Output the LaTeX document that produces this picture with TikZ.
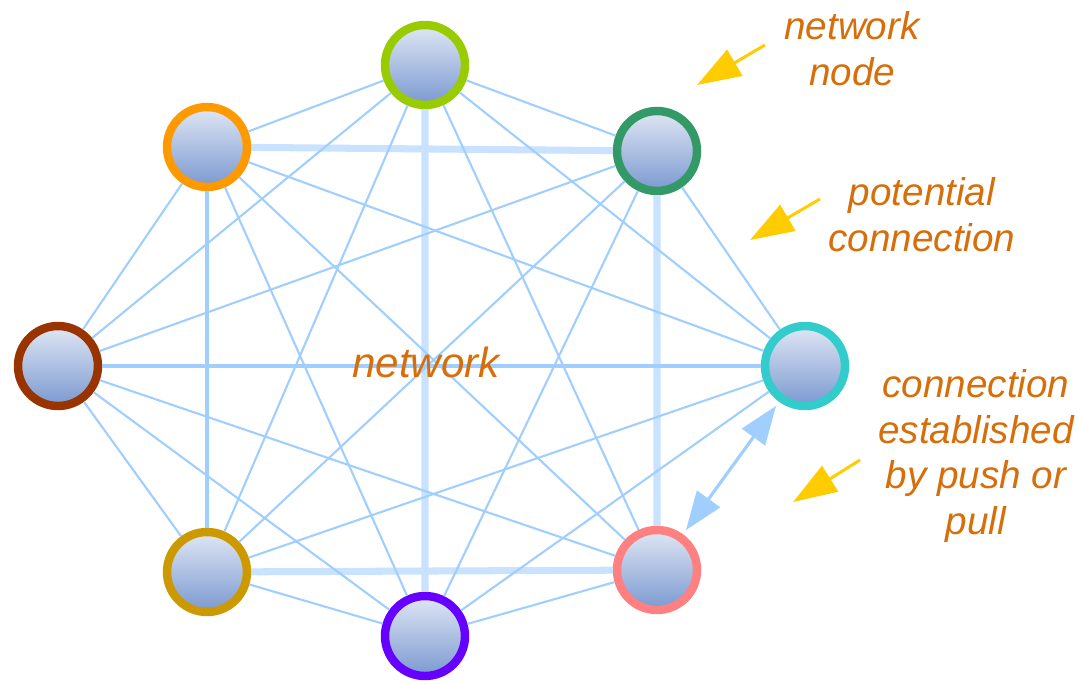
\documentclass[tikz,border=0pt]{standalone}
\usepackage{fontspec}
\setmainfont{Liberation Sans}
\usetikzlibrary{arrows.meta}
\definecolor{linkblue}{RGB}{160,207,255}
\definecolor{linkpale}{RGB}{200,226,255}
\definecolor{notecol}{RGB}{214,110,10}
\definecolor{pointer}{RGB}{255,204,0}
\definecolor{fillhi}{RGB}{224,231,244}
\definecolor{filllo}{RGB}{122,152,208}
\definecolor{ringlime}{RGB}{153,204,0}
\definecolor{ringorange}{RGB}{255,153,0}
\definecolor{ringgreen}{RGB}{51,153,102}
\definecolor{ringbrown}{RGB}{153,51,0}
\definecolor{ringcyan}{RGB}{51,204,204}
\definecolor{ringgold}{RGB}{204,153,0}
\definecolor{ringviolet}{RGB}{102,0,255}
\definecolor{ringpink}{RGB}{255,128,128}

\begin{document}
\begin{tikzpicture}[x=0.02cm,y=-0.02cm,
	peer/.style={circle,minimum size=1.6cm,inner sep=0pt,line width=4.8pt,top color=fillhi,bottom color=filllo,draw=#1},
	link/.style={linkblue,line width=1.2pt},
	midlink/.style={linkblue,line width=1.9pt},
	widelink/.style={linkpale,line width=4pt},
	note/.style={notecol,font=\fontsize{22}{26}\selectfont\itshape,align=center},
	hint/.style={pointer,line width=1.7pt,-{Triangle[length=25pt,width=17pt]}},
	pushpull/.style={linkblue,line width=1.8pt,{Triangle[length=22pt,width=16pt]}-{Triangle[length=22pt,width=16pt]},shorten <=0.1cm,shorten >=0.1cm}]
	\useasboundingbox (0,0) rectangle (1077,683);

	\node[peer=ringlime] (tp) at (425,65) {};
	\node[peer=ringorange] (og) at (207,147) {};
	\node[peer=ringgreen] (dg) at (657,151) {};
	\node[peer=ringbrown] (br) at (58,366) {};
	\node[peer=ringcyan] (cy) at (805,366) {};
	\node[peer=ringgold] (gd) at (207,572) {};
	\node[peer=ringviolet] (pp) at (425,636) {};
	\node[peer=ringpink] (pk) at (657,570) {};

	\draw[widelink] (og) -- (dg) (dg) -- (pk) (pk) -- (gd) (tp) -- (pp);
	\draw[midlink] (og) -- (gd) (br) -- (cy);
	\draw[link] (tp) -- (og) (tp) -- (dg) (tp) -- (br) (tp) -- (cy) (tp) -- (gd) (tp) -- (pk);
	\draw[link] (og) -- (br) (og) -- (cy) (og) -- (pp) (og) -- (pk);
	\draw[link] (dg) -- (br) (dg) -- (cy) (dg) -- (gd) (dg) -- (pp);
	\draw[link] (br) -- (gd) (br) -- (pp) (br) -- (pk);
	\draw[link] (cy) -- (gd) (cy) -- (pp);
	\draw[link] (gd) -- (pp) (pp) -- (pk);
	\draw[pushpull] (cy) -- (pk);

	\node[note,font=\fontsize{24}{28}\selectfont\itshape] (mid) at (426,362) {network};
	\node[note] (peernote) at (852,49) {network\\node};
	\node[note] (linknote) at (922,215) {potential\\connection};
	\node[note] (pushnote) at (976,456) {connection\\established\\by push or\\pull};

	\coordinate (h1) at (765,45);
	\coordinate (t1) at (697,85);
	\coordinate (h2) at (820,199);
	\coordinate (t2) at (750,240);
	\coordinate (h3) at (860,460);
	\coordinate (t3) at (793,502);
	\draw[hint] (h1) -- (t1);
	\draw[hint] (h2) -- (t2);
	\draw[hint] (h3) -- (t3);
\end{tikzpicture}
\end{document}
